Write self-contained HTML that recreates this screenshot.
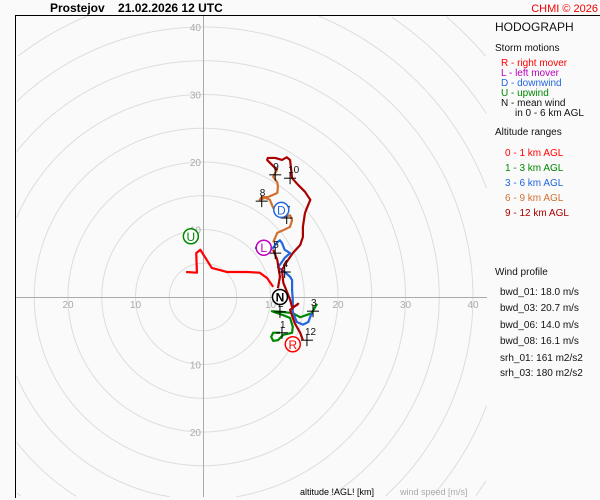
<!DOCTYPE html>
<html><head><meta charset="utf-8"><style>
html,body{margin:0;padding:0;width:600px;height:500px;overflow:hidden;background:#fafafa;}
svg{display:block;font-family:"Liberation Sans",sans-serif;}
</style></head><body>
<svg id="c" width="600" height="500" viewBox="0 0 600 500">
<rect width="600" height="500" fill="#fafafa"/>
<text x="50" y="12" font-size="12" font-weight="bold" xml:space="preserve" style="white-space:pre">Prostejov    21.02.2026 12 UTC</text>
<text x="598" y="12" font-size="11" fill="#e00" text-anchor="end">CHMI © 2026</text>
<g id="rings"></g>
<g id="plot"></g>
<line x1="15" y1="15.5" x2="600" y2="15.5" stroke="#000"/>
<line x1="15.5" y1="15" x2="15.5" y2="498" stroke="#000"/>
<g font-size="11" fill="#111">
<text x="495" y="31" font-size="12">HODOGRAPH</text>
<text x="495" y="51" font-size="10">Storm motions</text>
<g font-size="10">
<text x="501" y="66" fill="#f00">R - right mover</text>
<text x="501" y="76" fill="#b0b">L - left mover</text>
<text x="501" y="86" fill="#2266dd">D - downwind</text>
<text x="501" y="96" fill="#080">U - upwind</text>
<text x="501" y="106">N - mean wind</text>
<text x="515" y="116">in 0 - 6 km AGL</text>
</g>
<text x="495" y="135" font-size="10">Altitude ranges</text>
<g font-size="10">
<text x="505" y="156" fill="#f00">0 - 1 km AGL</text>
<text x="505" y="171" fill="#080">1 - 3 km AGL</text>
<text x="505" y="186" fill="#2266dd">3 - 6 km AGL</text>
<text x="505" y="201" fill="#d07030">6 - 9 km AGL</text>
<text x="505" y="216" fill="#a00">9 - 12 km AGL</text>
</g>
<g font-size="10">
<text x="495" y="275">Wind profile</text>
<text x="500" y="295">bwd_01: 18.0 m/s</text>
<text x="500" y="311">bwd_03: 20.7 m/s</text>
<text x="500" y="328">bwd_06: 14.0 m/s</text>
<text x="500" y="344">bwd_08: 16.1 m/s</text>
<text x="500" y="361">srh_01: 161 m2/s2</text>
<text x="500" y="376">srh_03: 180 m2/s2</text>
</g>
</g>
<text x="300" y="495" font-size="9">altitude !AGL! [km]</text>
<text x="400" y="495" font-size="9" fill="#aaa">wind speed [m/s]</text>
</svg>
<script>
const seg01=[[-2.5,3.7],[-0.9,3.6],[-1.0,6.5],[-0.4,7.0],[0.3,5.9],[1.3,4.3],[3.6,3.7],[6.5,3.7],[8.4,3.6],[9.5,2.8],[10.4,1.5]];
const seg13=[[11.4,-5.3],[10.4,-5.3],[10.1,-5.9],[10.4,-6.5],[11.1,-6.4],[11.9,-5.6],[13.2,-5.3],[13.3,-4.4],[12.9,-3.1],[11.9,-2.7],[10.2,-2.1],[11.7,-2.2],[13.3,-2.4],[14.4,-3.0],[16.1,-2.4],[16.9,-1.0]];
const seg36=[[16.1,-2.4],[15.6,-3.7],[14.8,-4.1],[13.9,-3.7],[13.3,-2.2],[13.3,-0.4],[13.2,1.0],[13.2,2.5],[12.9,3.0],[12.1,3.7],[11.7,4.0],[11.1,4.4],[11.7,5.2],[12.1,5.8],[12.9,6.5],[12.1,7.0],[11.7,8.0],[11.4,8.4],[11.0,8.1],[10.4,7.3],[9.9,7.0],[7.7,7.3]];
const seg69=[[10.4,8.1],[11.0,9.5],[11.9,9.9],[12.9,10.4],[13.2,11.4],[12.9,12.1],[12.1,11.9],[11.7,12.4],[11.0,12.9],[10.4,13.2],[9.9,14.4],[9.2,14.7],[8.4,14.4],[8.7,14.8],[9.6,14.8],[11.0,15.4],[11.1,16.3],[11.0,17.0],[10.4,17.8],[10.7,18.4],[11.0,18.8]];
const seg912=[[11.0,18.8],[10.7,19.1],[9.9,19.9],[9.5,20.3],[9.6,20.6],[10.7,20.6],[11.7,20.3],[12.4,20.7],[12.9,20.3],[13.2,17.6],[14.1,16.6],[15.1,15.6],[15.9,14.4],[15.4,13.2],[15.1,12.4],[14.8,10.4],[14.8,8.9],[14.4,7.7],[13.3,6.5],[12.4,5.2],[11.7,4.0],[11.9,2.1],[12.9,-0.4],[13.2,-1.5],[13.9,-1.2],[14.1,-1.0],[12.9,-1.9],[13.6,-3.9],[14.4,-5.3],[14.8,-6.4]];
const seg912b=[[10.4,7.0],[11.0,5.5],[11.4,3.0],[11.1,1.3]];
const markLabels=["1","2","3","4","5","7","8","9","10","12"];
const markU=[11.7,11.4,16.3,12.1,10.7,12.4,8.7,10.7,12.9,15.4];
const markV=[-5.3,-2.2,-2.1,3.7,6.5,11.7,14.2,18.1,17.6,-6.4];
const stormLabels=["N","R","L","D","U"];
const stormU=[11.4,13.3,9.0,11.6,-1.8];
const stormV=[0.0,-7.0,7.3,12.9,9.0];
const stormColors=["#000","#f00","#b0b","#2266dd","#080"];
const ringSpeeds=[5,10,15,20,25,30,35,40,45,50,55,60];
const tickVals=[10,20,30,40];

const NS="http://www.w3.org/2000/svg";
const CX=203,CY=297,K=6.75;
const X0=16,X1=487,Y0=16,Y1=497;
const sx=u=>CX+u*K, sy=v=>CY-v*K;
function mk(t,a,p){const e=document.createElementNS(NS,t);for(const k in a)e.setAttribute(k,a[k]);p.appendChild(e);return e;}
const rings=document.getElementById('rings'), plot=document.getElementById('plot');
ringSpeeds.forEach(s=>{
  const r=s*K;let d='',pen=false;
  for(let i=0;i<=720;i++){
    const a=i*Math.PI/360,x=CX+r*Math.cos(a),y=CY-r*Math.sin(a);
    if(x>=X0&&x<=X1&&y>=Y0&&y<=Y1){d+=(pen?'L':'M')+x.toFixed(1)+' '+y.toFixed(1);pen=true;}else pen=false;
  }
  const c=mk('path',{d:d,fill:'none',stroke:'#ddd','stroke-width':1},rings);
  
  
});
let a=mk('line',{x1:CX+.5,y1:16,x2:CX+.5,y2:497,stroke:'#aaa'},rings);


a=mk('line',{x1:16,y1:CY+.5,x2:487,y2:CY+.5,stroke:'#aaa'},rings);


tickVals.forEach(t=>{
  [t,-t].forEach(u=>{
    const x=sx(u);
    if(x<25||x>480) return;
    const e=mk('text',{x:x,y:CY+11,'font-size':10,fill:'#aaa','text-anchor':'middle'},rings);e.textContent=t;
    
    
  });
  [t,-t].forEach(v=>{
    const y=sy(v)+4;
    if(y<25||y>496) return;
    const e=mk('text',{x:CX-2,y:y,'font-size':10,fill:'#aaa','text-anchor':'end'},rings);e.textContent=t;
    
    
  });
});
function path(d,col,name){
  const p=mk('polyline',{points:d.map(q=>sx(q[0])+','+sy(q[1])).join(' '),fill:'none',stroke:col,'stroke-width':2.2,'stroke-linejoin':'round'},plot);
  
  
}
path(seg01,'#f00','trace-0-1km');
path(seg13,'#080','trace-1-3km');
path(seg36,'#2266dd','trace-3-6km');
path(seg69,'#d07030','trace-6-9km');
path(seg912,'#a00','trace-9-12km');
path(seg912b,'#a00','trace-9-12km-part');
markLabels.forEach((l,i)=>{
  const x=sx(markU[i]),y=sy(markV[i]);
  const g=mk('g',{},plot);
  
  
  mk('line',{x1:x-6,y1:y,x2:x+6,y2:y,stroke:'#000'},g);
  mk('line',{x1:x,y1:y-6,x2:x,y2:y+6,stroke:'#000'},g);
  const t=mk('text',{x:x-2,y:y-5,'font-size':10,fill:'#111'},g);t.textContent=l;
});
stormLabels.forEach((l,i)=>{
  const x=sx(stormU[i]),y=sy(stormV[i]);
  const g=mk('g',{},plot);
  
  
  mk('circle',{cx:x,cy:y,r:7.5,fill:'#fff',stroke:stormColors[i],'stroke-width':1.5},g);
  const t=mk('text',{x:x,y:y+4.5,'font-size':12,fill:stormColors[i],'text-anchor':'middle','font-weight':l==='N'?'bold':'normal'},g);t.textContent=l;
});
</script>
</body></html>
